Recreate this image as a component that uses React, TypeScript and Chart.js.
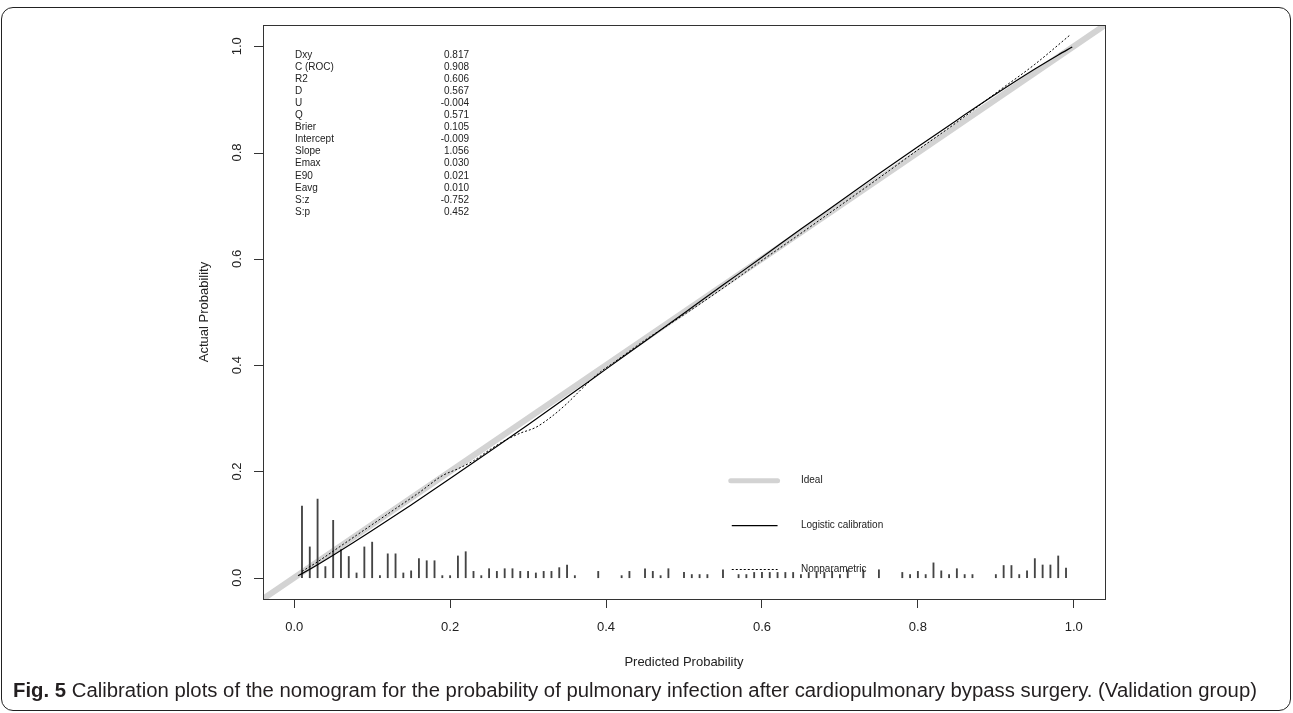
import React, { useEffect, useRef } from "react";
import { Chart, registerables } from "chart.js";

Chart.register(...registerables);

// ---------- data ----------
const tickValues = [0, 0.2, 0.4, 0.6, 0.8, 1.0];
const tickLabels = ["0.0", "0.2", "0.4", "0.6", "0.8", "1.0"];

const idealX = [-0.04, 1.04];
const idealY = [-0.04, 1.04];

const logisticX = [0.005, 0.01, 0.02, 0.03, 0.05, 0.075, 0.1, 0.15, 0.2, 0.25, 0.3, 0.35, 0.4, 0.45, 0.5, 0.55, 0.6, 0.65, 0.7, 0.75, 0.8, 0.85, 0.9, 0.95, 0.98, 0.998];
const logisticY = [0.0037, 0.0077, 0.016, 0.0246, 0.0424, 0.0653, 0.0887, 0.137, 0.1865, 0.237, 0.288, 0.34, 0.3925, 0.445, 0.4978, 0.5506, 0.603, 0.656, 0.708, 0.76, 0.811, 0.861, 0.91, 0.957, 0.9837, 0.9986];

const nonparX = [0.01, 0.03, 0.05, 0.08, 0.1, 0.13, 0.16, 0.19, 0.21, 0.23, 0.25, 0.27, 0.29, 0.31, 0.33, 0.35, 0.37, 0.39, 0.41, 0.45, 0.5, 0.55, 0.6, 0.65, 0.7, 0.75, 0.8, 0.85, 0.9, 0.95, 0.995];
const nonparY = [0.012, 0.03, 0.05, 0.08, 0.1, 0.13, 0.16, 0.192, 0.205, 0.22, 0.24, 0.258, 0.272, 0.283, 0.303, 0.328, 0.357, 0.384, 0.405, 0.447, 0.495, 0.545, 0.597, 0.648, 0.7, 0.752, 0.805, 0.857, 0.912, 0.966, 1.021];

const spikeX = [0.01, 0.02, 0.03, 0.04, 0.05, 0.06, 0.07, 0.08, 0.09, 0.1, 0.11, 0.12, 0.13, 0.14, 0.15, 0.16, 0.17, 0.18, 0.19, 0.2, 0.21, 0.22, 0.23, 0.24, 0.25, 0.26, 0.27, 0.28, 0.29, 0.3, 0.31, 0.32, 0.33, 0.34, 0.35, 0.36, 0.39, 0.42, 0.43, 0.45, 0.46, 0.47, 0.48, 0.5, 0.51, 0.52, 0.53, 0.55, 0.57, 0.58, 0.59, 0.6, 0.61, 0.62, 0.63, 0.64, 0.65, 0.66, 0.67, 0.68, 0.69, 0.7, 0.71, 0.73, 0.75, 0.78, 0.79, 0.8, 0.81, 0.82, 0.83, 0.84, 0.85, 0.86, 0.87, 0.9, 0.91, 0.92, 0.93, 0.94, 0.95, 0.96, 0.97, 0.98, 0.99];
const spikeH = [0.135, 0.058, 0.148, 0.021, 0.108, 0.053, 0.04, 0.009, 0.058, 0.067, 0.004, 0.045, 0.045, 0.009, 0.013, 0.036, 0.032, 0.032, 0.004, 0.004, 0.041, 0.049, 0.012, 0.004, 0.017, 0.012, 0.017, 0.017, 0.012, 0.012, 0.009, 0.012, 0.012, 0.019, 0.024, 0.004, 0.012, 0.004, 0.012, 0.017, 0.012, 0.004, 0.017, 0.01, 0.006, 0.006, 0.006, 0.015, 0.006, 0.006, 0.01, 0.01, 0.01, 0.01, 0.01, 0.01, 0.006, 0.01, 0.012, 0.01, 0.012, 0.006, 0.015, 0.015, 0.015, 0.01, 0.006, 0.012, 0.006, 0.028, 0.013, 0.006, 0.017, 0.006, 0.006, 0.006, 0.023, 0.023, 0.006, 0.013, 0.036, 0.024, 0.024, 0.041, 0.018];

const statNames = ["Dxy", "C (ROC)", "R2", "D", "U", "Q", "Brier", "Intercept", "Slope", "Emax", "E90", "Eavg", "S:z", "S:p"];
const statValues = ["0.817", "0.908", "0.606", "0.567", "-0.004", "0.571", "0.105", "-0.009", "1.056", "0.030", "0.021", "0.010", "-0.752", "0.452"];

const legendLabels = ["Ideal", "Logistic calibration", "Nonparametric"];

const xTitle = "Predicted Probability";
const yTitle = "Actual Probability";
const captionBold = "Fig. 5";
const captionText = " Calibration plots of the nomogram for the probability of pulmonary infection after cardiopulmonary bypass surgery. (Validation group)";

// ---------- styles ----------
const FONT = "'Liberation Sans', Arial, Helvetica, sans-serif";
const TEXT = "#222";

const decorPlugin = {
  id: "decor",
  afterDraw(chart: any) {
    const { ctx, chartArea, scales } = chart;
    const xs = scales.x;
    const ys = scales.y;
    ctx.save();
    ctx.setLineDash([]);
    // plot box
    ctx.strokeStyle = "#333";
    ctx.lineWidth = 1;
    const L = Math.round(chartArea.left);
    ctx.strokeRect(
      L + 0.5,
      Math.round(chartArea.top) + 0.5,
      Math.round(chartArea.right - chartArea.left),
      Math.round(chartArea.bottom - chartArea.top)
    );
    // y tick marks (filled rectangles) and rotated y tick labels
    ctx.fillStyle = "#333";
    tickValues.forEach((v) => {
      const py = Math.round(ys.getPixelForValue(v));
      ctx.fillRect(L - 9, py, 10, 1);
    });
    ctx.fillStyle = TEXT;
    ctx.font = `13px ${FONT}`;
    ctx.textAlign = "center";
    ctx.textBaseline = "middle";
    tickValues.forEach((v, i) => {
      const py = ys.getPixelForValue(v);
      ctx.save();
      ctx.translate(chartArea.left - 26, py);
      ctx.rotate(-Math.PI / 2);
      ctx.fillText(tickLabels[i], 0, 0);
      ctx.restore();
    });
    // statistics block
    ctx.font = `10px ${FONT}`;
    ctx.textBaseline = "middle";
    const sx0 = chartArea.left + 32;
    const sx1 = chartArea.left + 206;
    statNames.forEach((n, i) => {
      const py = chartArea.top + 30 + i * 12.08;
      ctx.textAlign = "left";
      ctx.fillText(n, sx0, py);
      ctx.textAlign = "right";
      ctx.fillText(statValues[i], sx1, py);
    });
    // legend
    const ds = chart.data.datasets;
    const lineIdx = [0, 1, 2];
    const legY = [0.1825, 0.098, 0.0155];
    const lx0 = xs.getPixelForValue(0.56);
    const lx1 = xs.getPixelForValue(0.62);
    const tx = xs.getPixelForValue(0.65);
    lineIdx.forEach((di, i) => {
      const d = ds[di];
      const py = ys.getPixelForValue(legY[i]);
      ctx.save();
      ctx.strokeStyle = d.borderColor;
      ctx.lineWidth = di === 0 ? 5 : d.borderWidth;
      ctx.lineCap = di === 0 ? "round" : "butt";
      ctx.setLineDash(d.borderDash || []);
      ctx.beginPath();
      ctx.moveTo(lx0 + (di === 0 ? 0 : 1), py);
      ctx.lineTo(lx1, py);
      ctx.stroke();
      ctx.restore();
      ctx.fillStyle = TEXT;
      ctx.font = `10px ${FONT}`;
      ctx.textAlign = "left";
      ctx.textBaseline = "middle";
      ctx.fillText(legendLabels[i], tx, py);
    });
    ctx.restore();
  },
};

export default function App() {
  const canvasRef = useRef<HTMLCanvasElement>(null);
  const capRef = useRef<HTMLDivElement>(null);

  useEffect(() => {
    const canvas = canvasRef.current;
    if (!canvas) return;
    const chart = new Chart(canvas, {
      type: "line",
      data: {
        datasets: [
          {
            label: legendLabels[0],
            data: idealX.map((x, i) => ({ x, y: idealY[i] })),
            borderColor: "#d3d3d3",
            borderWidth: 6,
            pointRadius: 0,
            clip: 0,
            order: 10,
          } as any,
          {
            label: legendLabels[1],
            data: logisticX.map((x, i) => ({ x, y: logisticY[i] })),
            borderColor: "#000",
            borderWidth: 1.2,
            pointRadius: 0,
            cubicInterpolationMode: "monotone",
            order: 2,
          },
          {
            label: legendLabels[2],
            data: nonparX.map((x, i) => ({ x, y: nonparY[i] })),
            borderColor: "#000",
            borderWidth: 1,
            borderDash: [2, 2],
            pointRadius: 0,
            cubicInterpolationMode: "monotone",
            order: 1,
          },
          {
            type: "bar",
            label: "spikes",
            data: spikeX.map((x, i) => ({ x, y: spikeH[i] })),
            backgroundColor: "#444",
            barThickness: 1.2,
            grouped: false,
            order: 5,
          } as any,
        ],
      },
      options: {
        animation: false,
        responsive: false,
        events: [],
        layout: { padding: { left: 190, top: 25, right: 188, bottom: 10 } },
        plugins: { legend: { display: false }, tooltip: { enabled: false } },
        scales: {
          x: {
            type: "linear",
            min: -0.04,
            max: 1.04,
            offset: false,
            afterBuildTicks: (s: any) => {
              s.ticks = tickValues.map((v) => ({ value: v }));
            },
            afterFit: (s: any) => {
              s.height = 71;
            },
            ticks: {
              callback: (v: any) => {
                const k = tickValues.indexOf(v);
                return k >= 0 ? tickLabels[k] : "";
              },
              font: { family: FONT, size: 13 },
              color: TEXT,
              padding: 12,
              maxRotation: 0,
              autoSkip: false,
            },
            grid: { display: true, offset: false, drawOnChartArea: false, drawTicks: true, tickLength: 9, color: "#333", lineWidth: 1 },
            border: { display: false },
            title: { display: true, text: xTitle, font: { family: FONT, size: 13 }, color: TEXT, padding: { top: 0, bottom: 0 } },
          },
          y: {
            type: "linear",
            min: -0.04,
            max: 1.04,
            offset: false,
            afterBuildTicks: (s: any) => {
              s.ticks = tickValues.map((v) => ({ value: v }));
            },
            afterFit: (s: any) => {
              s.width = 73;
            },
            ticks: { display: false },
            grid: { display: false },
            border: { display: false },
            title: { display: true, text: yTitle, font: { family: FONT, size: 13 }, color: TEXT, padding: { top: 7, bottom: 0 } },
          },
        },
      } as any,
      plugins: [decorPlugin],
    });
    return () => chart.destroy();
  }, []);

  useEffect(() => {
    const el = capRef.current;
    if (!el) return;
    el.style.transform = "none";
    const w = el.getBoundingClientRect().width;
    if (w > 0) el.style.transform = `scaleX(${1244 / w})`;
  }, []);

  return (
    <div style={{ position: "absolute", left: 0, top: 0, width: 1293, height: 713, background: "#fff", overflow: "hidden" }}>
      <div
        style={{
          position: "absolute",
          left: 1,
          top: 7,
          width: 1290,
          height: 704,
          border: "1.5px solid #222",
          borderRadius: 12,
          boxSizing: "border-box",
        }}
      />
      <canvas ref={canvasRef} width={1293} height={680} style={{ position: "absolute", left: 0, top: 0, width: 1293, height: 680 }} />
      <div
        ref={capRef}
        style={{
          position: "absolute",
          left: 13,
          top: 677,
          whiteSpace: "nowrap",
          transformOrigin: "left center",
          fontFamily: "'Liberation Sans Narrow', 'Liberation Sans', Arial, sans-serif",
          fontSize: 20,
          lineHeight: "26px",
          color: "#231f20",
          display: "inline-block",
        }}
      >
        <b>{captionBold}</b>
        {captionText}
      </div>
    </div>
  );
}
